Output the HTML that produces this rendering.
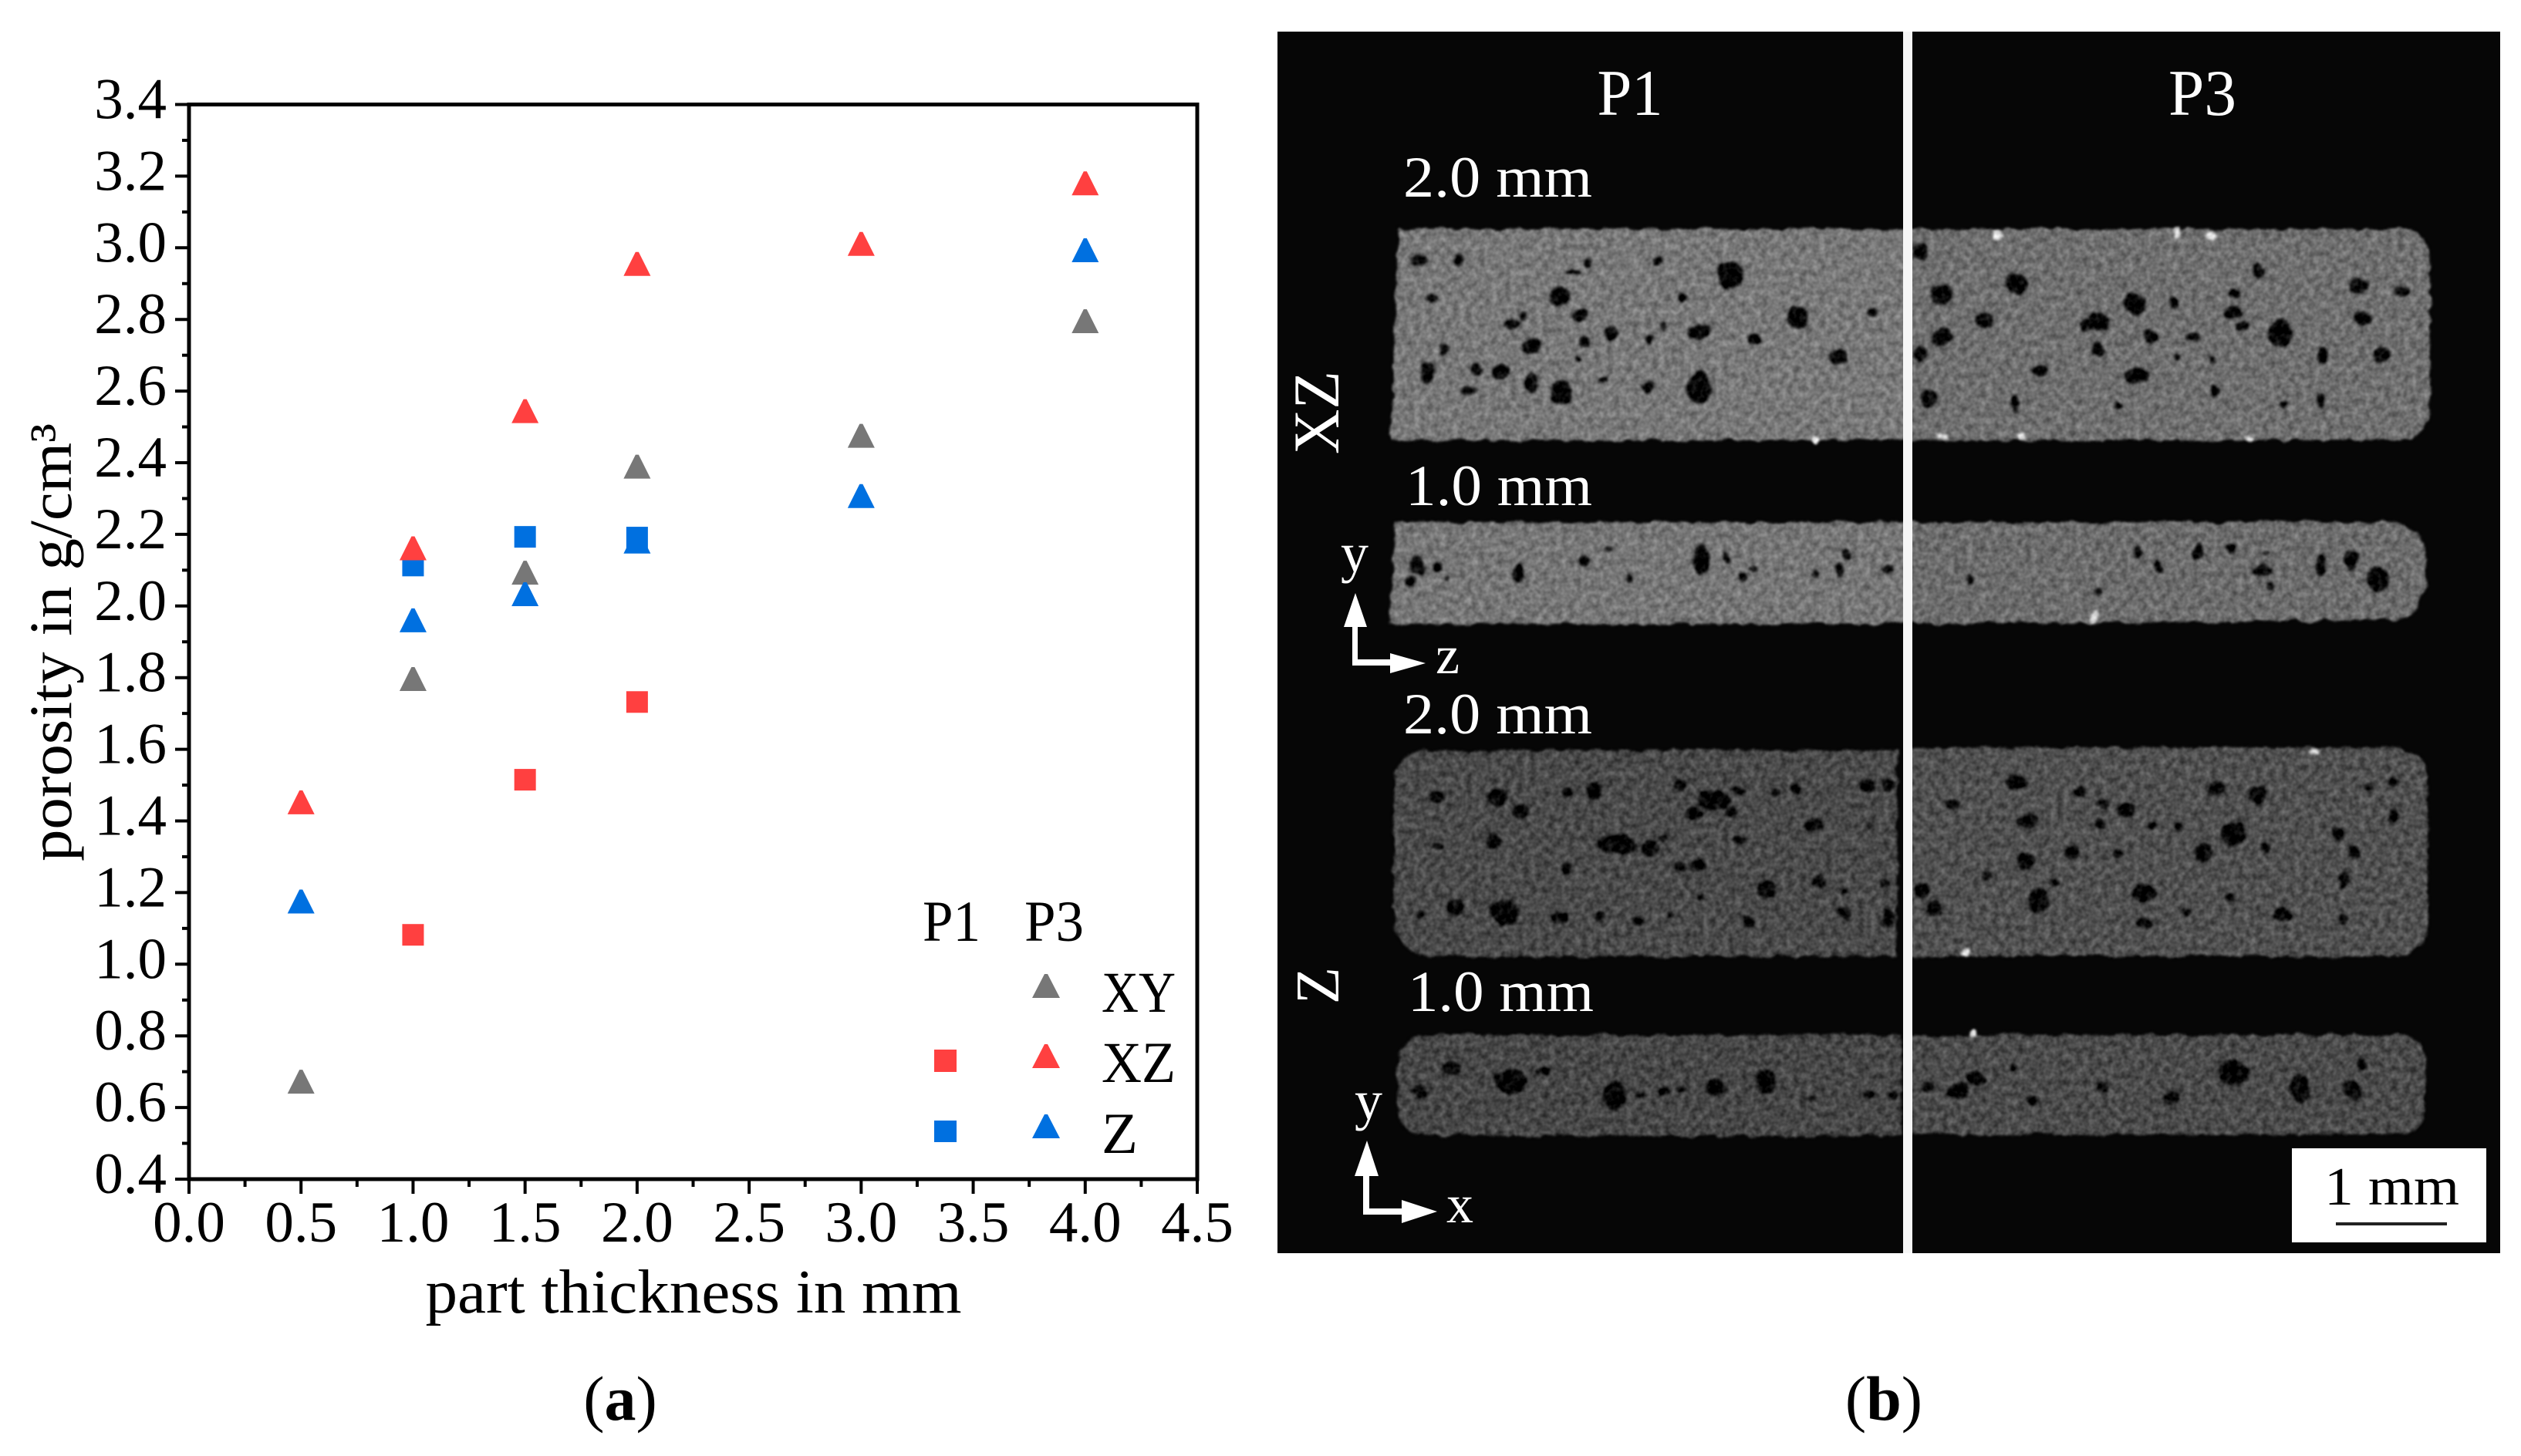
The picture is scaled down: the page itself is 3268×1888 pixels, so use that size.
<!DOCTYPE html>
<html lang="en">
<head>
<meta charset="utf-8">
<title>Porosity vs part thickness and CT cross-sections</title>
<style>
html,body{margin:0;padding:0;background:#fff;width:3268px;height:1888px;overflow:hidden;}
svg{display:block;}
text{font-family:"Liberation Serif",serif;}
</style>
</head>
<body>
<svg id="fig" xmlns="http://www.w3.org/2000/svg" width="3268" height="1888" viewBox="0 0 3268 1888">
<defs>
<clipPath id="imgclip"><rect x="1656" y="41" width="1585" height="1584"/></clipPath>
<filter id="rough" filterUnits="userSpaceOnUse" x="1656" y="41" width="1585" height="1584" color-interpolation-filters="sRGB">
<feTurbulence type="fractalNoise" baseFrequency="0.06" numOctaves="2" seed="4" result="wob"/>
<feDisplacementMap in="SourceGraphic" in2="wob" scale="10" xChannelSelector="R" yChannelSelector="G" result="disp"/>
<feGaussianBlur in="disp" stdDeviation="1.8" result="soft"/>
<feTurbulence type="fractalNoise" baseFrequency="0.12" numOctaves="2" seed="9" result="grain"/>
<feColorMatrix in="grain" type="matrix" values="1 0 0 0 0 1 0 0 0 0 1 0 0 0 0 0 0 0 0 1" result="grainGray"/>
<feComposite in="soft" in2="grainGray" operator="arithmetic" k1="0" k2="1" k3="0.35" k4="-0.175" result="tex"/>
<feComposite in="tex" in2="soft" operator="in"/>
</filter>
</defs>

<g id="panel-a">
<g id="chart"></g>
<text transform="translate(92,833) rotate(-90)" font-size="78" text-anchor="middle" textLength="568" lengthAdjust="spacingAndGlyphs" fill="#000">porosity in g/cm³</text>
<text x="899" y="1702" font-size="80" text-anchor="middle" textLength="695" lengthAdjust="spacingAndGlyphs" fill="#000">part thickness in mm</text>
<g fill="#000" font-size="75">
<text x="1196" y="1220" textLength="75" lengthAdjust="spacingAndGlyphs">P1</text>
<text x="1328" y="1220" textLength="77" lengthAdjust="spacingAndGlyphs">P3</text>
<polygon points="1354,1263 1358,1263 1374,1294 1338,1294" fill="#777777"/>
<text x="1428" y="1312" textLength="96" lengthAdjust="spacingAndGlyphs">XY</text>
<rect x="1211" y="1361" width="29" height="29" fill="#ff4040"/>
<polygon points="1354,1354 1358,1354 1374,1385 1338,1385" fill="#ff4040"/>
<text x="1428" y="1403" textLength="96" lengthAdjust="spacingAndGlyphs">XZ</text>
<rect x="1211" y="1453" width="29" height="28" fill="#0070e0"/>
<polygon points="1354,1445 1358,1445 1374,1476 1338,1476" fill="#0070e0"/>
<text x="1428" y="1495" textLength="47" lengthAdjust="spacingAndGlyphs">Z</text>
</g>
<text x="804" y="1841" font-size="82" text-anchor="middle" fill="#000">(<tspan font-weight="bold">a</tspan>)</text>
</g>

<g id="panel-b">
<rect x="1656" y="41" width="1585" height="1584" fill="#060606"/>
<g clip-path="url(#imgclip)">
<g filter="url(#rough)">
<path d="M1812,296 H2475 V572 H1802 Z" fill="#787878"/>
<path d="M2472,296 H3115 Q3148,296 3151,340 V530 Q3146,570 3110,572 H2472 Z" fill="#6f6f6f"/>
<path d="M1808,676 H2475 V810 H1800 Z" fill="#767676"/>
<path d="M2472,676 H3105 Q3146,680 3146,740 Q3146,800 3100,805 L2472,810 Z" fill="#6c6c6c"/>
<path d="M1850,972 H2460 V1241 H1850 Q1806,1235 1806,1190 V1020 Q1806,976 1850,972 Z" fill="#4a4a4a"/>
<path d="M2472,968 H3105 Q3148,973 3148,1015 V1195 Q3148,1235 3105,1241 H2472 Z" fill="#505050"/>
<path d="M1850,1341 H2466 V1474 H1850 Q1811,1470 1811,1440 V1375 Q1811,1345 1850,1341 Z" fill="#474747"/>
<path d="M2472,1341 H3110 Q3144,1345 3144,1375 V1440 Q3144,1470 3110,1472 H2472 Z" fill="#4b4b4b"/>
<g transform="translate(1640,30) scale(1.0384,0.5102)" fill="#040404">
<ellipse cx="192" cy="603" rx="10" ry="14"/><ellipse cx="242" cy="603" rx="6" ry="16"/><ellipse cx="385" cy="635" rx="10" ry="6"/><ellipse cx="403" cy="605" rx="5" ry="12"/><ellipse cx="490" cy="605" rx="5" ry="12"/><ellipse cx="580" cy="640" rx="16" ry="36"/><ellipse cx="209" cy="697" rx="7" ry="10"/><ellipse cx="368" cy="695" rx="12" ry="26"/><ellipse cx="392" cy="743" rx="11" ry="16"/><ellipse cx="308" cy="765" rx="10" ry="12"/><ellipse cx="323" cy="745" rx="5" ry="10"/><ellipse cx="333" cy="820" rx="11" ry="20"/><ellipse cx="398" cy="810" rx="7" ry="14"/><ellipse cx="433" cy="790" rx="8" ry="18"/><ellipse cx="480" cy="805" rx="5" ry="14"/><ellipse cx="542" cy="785" rx="13" ry="20"/><ellipse cx="497" cy="770" rx="3" ry="10"/><ellipse cx="522" cy="697" rx="5" ry="10"/><ellipse cx="610" cy="805" rx="8" ry="16"/><ellipse cx="665" cy="750" rx="14" ry="30"/><ellipse cx="716" cy="848" rx="11" ry="18"/><ellipse cx="758" cy="735" rx="6" ry="10"/><ellipse cx="224" cy="830" rx="7" ry="14"/><ellipse cx="202" cy="890" rx="9" ry="26"/><ellipse cx="265" cy="880" rx="7" ry="18"/><ellipse cx="294" cy="885" rx="10" ry="20"/><ellipse cx="255" cy="932" rx="9" ry="10"/><ellipse cx="332" cy="915" rx="10" ry="26"/><ellipse cx="369" cy="940" rx="14" ry="30"/><ellipse cx="422" cy="905" rx="6" ry="8"/><ellipse cx="478" cy="925" rx="6" ry="12"/><ellipse cx="542" cy="925" rx="14" ry="40"/><ellipse cx="392" cy="855" rx="3" ry="6"/>
<ellipse cx="818" cy="580" rx="9" ry="24"/><ellipse cx="938" cy="665" rx="14" ry="26"/><ellipse cx="845" cy="690" rx="13" ry="26"/><ellipse cx="1085" cy="715" rx="14" ry="30"/><ellipse cx="1135" cy="710" rx="6" ry="16"/><ellipse cx="1210" cy="688" rx="6" ry="14"/><ellipse cx="1240" cy="630" rx="6" ry="20"/><ellipse cx="1365" cy="670" rx="12" ry="20"/><ellipse cx="1420" cy="682" rx="9" ry="14"/><ellipse cx="898" cy="755" rx="11" ry="18"/><ellipse cx="1040" cy="760" rx="14" ry="24"/><ellipse cx="1022" cy="770" rx="6" ry="14"/><ellipse cx="1105" cy="795" rx="10" ry="20"/><ellipse cx="1160" cy="800" rx="11" ry="12"/><ellipse cx="1210" cy="735" rx="12" ry="14"/><ellipse cx="1220" cy="770" rx="9" ry="12"/><ellipse cx="1268" cy="790" rx="14" ry="36"/><ellipse cx="1370" cy="752" rx="10" ry="18"/><ellipse cx="845" cy="797" rx="13" ry="24"/><ellipse cx="818" cy="840" rx="9" ry="18"/><ellipse cx="1040" cy="828" rx="9" ry="18"/><ellipse cx="1320" cy="845" rx="7" ry="20"/><ellipse cx="1392" cy="845" rx="10" ry="22"/><ellipse cx="1183" cy="858" rx="5" ry="12"/><ellipse cx="968" cy="882" rx="11" ry="16"/><ellipse cx="1088" cy="897" rx="17" ry="20"/><ellipse cx="1185" cy="935" rx="6" ry="18"/><ellipse cx="828" cy="955" rx="9" ry="24"/><ellipse cx="936" cy="970" rx="6" ry="20"/><ellipse cx="1066" cy="972" rx="4" ry="10"/><ellipse cx="1270" cy="968" rx="5" ry="10"/><ellipse cx="1318" cy="960" rx="5" ry="18"/><ellipse cx="1138" cy="850" rx="4" ry="8"/>
<ellipse cx="190" cy="1380" rx="9" ry="24"/><ellipse cx="215" cy="1382" rx="6" ry="12"/><ellipse cx="182" cy="1418" rx="6" ry="12"/><ellipse cx="316" cy="1400" rx="6" ry="24"/><ellipse cx="398" cy="1365" rx="7" ry="16"/><ellipse cx="428" cy="1335" rx="5" ry="8"/><ellipse cx="545" cy="1365" rx="10" ry="40"/><ellipse cx="575" cy="1360" rx="5" ry="14"/><ellipse cx="610" cy="1385" rx="6" ry="8"/><ellipse cx="716" cy="1390" rx="6" ry="20"/><ellipse cx="725" cy="1352" rx="5" ry="14"/><ellipse cx="688" cy="1400" rx="5" ry="12"/><ellipse cx="778" cy="1388" rx="6" ry="10"/><ellipse cx="455" cy="1415" rx="4" ry="12"/><ellipse cx="596" cy="1408" rx="5" ry="10"/><ellipse cx="228" cy="1410" rx="3" ry="8"/>
<ellipse cx="880" cy="1410" rx="4" ry="14"/><ellipse cx="1040" cy="1446" rx="5" ry="12"/><ellipse cx="1090" cy="1342" rx="5" ry="14"/><ellipse cx="1115" cy="1385" rx="5" ry="14"/><ellipse cx="1165" cy="1342" rx="5" ry="22"/><ellipse cx="1205" cy="1335" rx="7" ry="12"/><ellipse cx="1245" cy="1390" rx="12" ry="14"/><ellipse cx="1253" cy="1430" rx="5" ry="10"/><ellipse cx="1318" cy="1380" rx="6" ry="24"/><ellipse cx="1355" cy="1365" rx="9" ry="24"/><ellipse cx="1390" cy="1415" rx="14" ry="30"/><ellipse cx="1250" cy="1345" rx="4" ry="6"/>
</g>
<g transform="translate(1640,830) scale(1.0384,0.6378)" fill="#040404">
<ellipse cx="215" cy="318" rx="8" ry="10"/><ellipse cx="290" cy="320" rx="12" ry="18"/><ellipse cx="318" cy="348" rx="10" ry="14"/><ellipse cx="378" cy="308" rx="6" ry="10"/><ellipse cx="410" cy="305" rx="10" ry="18"/><ellipse cx="518" cy="295" rx="8" ry="8"/><ellipse cx="560" cy="325" rx="20" ry="22"/><ellipse cx="535" cy="352" rx="11" ry="12"/><ellipse cx="582" cy="350" rx="8" ry="10"/><ellipse cx="590" cy="305" rx="6" ry="8"/><ellipse cx="752" cy="295" rx="10" ry="14"/><ellipse cx="778" cy="295" rx="8" ry="12"/><ellipse cx="635" cy="310" rx="6" ry="8"/><ellipse cx="662" cy="305" rx="7" ry="10"/><ellipse cx="684" cy="376" rx="11" ry="12"/><ellipse cx="754" cy="378" rx="5" ry="8"/><ellipse cx="285" cy="410" rx="10" ry="16"/><ellipse cx="440" cy="415" rx="24" ry="20"/><ellipse cx="480" cy="425" rx="11" ry="18"/><ellipse cx="498" cy="403" rx="6" ry="8"/><ellipse cx="592" cy="405" rx="8" ry="8"/><ellipse cx="376" cy="465" rx="6" ry="14"/><ellipse cx="518" cy="460" rx="8" ry="10"/><ellipse cx="540" cy="458" rx="8" ry="12"/><ellipse cx="626" cy="505" rx="11" ry="20"/><ellipse cx="692" cy="492" rx="9" ry="14"/><ellipse cx="775" cy="495" rx="6" ry="8"/><ellipse cx="722" cy="510" rx="5" ry="6"/><ellipse cx="238" cy="545" rx="11" ry="18"/><ellipse cx="298" cy="555" rx="18" ry="26"/><ellipse cx="368" cy="566" rx="10" ry="14"/><ellipse cx="418" cy="562" rx="6" ry="10"/><ellipse cx="465" cy="572" rx="7" ry="8"/><ellipse cx="505" cy="560" rx="5" ry="8"/><ellipse cx="604" cy="572" rx="8" ry="14"/><ellipse cx="722" cy="555" rx="8" ry="14"/><ellipse cx="778" cy="565" rx="8" ry="20"/><ellipse cx="545" cy="525" rx="4" ry="8"/><ellipse cx="193" cy="557" rx="6" ry="6"/><ellipse cx="215" cy="420" rx="5" ry="6"/>
<ellipse cx="938" cy="290" rx="13" ry="16"/><ellipse cx="858" cy="333" rx="9" ry="12"/><ellipse cx="1018" cy="308" rx="7" ry="12"/><ellipse cx="1045" cy="335" rx="7" ry="8"/><ellipse cx="1075" cy="347" rx="11" ry="14"/><ellipse cx="1188" cy="303" rx="10" ry="16"/><ellipse cx="1240" cy="315" rx="12" ry="20"/><ellipse cx="1408" cy="290" rx="7" ry="8"/><ellipse cx="1378" cy="300" rx="5" ry="8"/><ellipse cx="952" cy="368" rx="14" ry="16"/><ellipse cx="1043" cy="372" rx="6" ry="10"/><ellipse cx="1108" cy="378" rx="7" ry="8"/><ellipse cx="1140" cy="380" rx="6" ry="8"/><ellipse cx="1208" cy="395" rx="16" ry="24"/><ellipse cx="1340" cy="395" rx="8" ry="14"/><ellipse cx="1408" cy="358" rx="7" ry="14"/><ellipse cx="1170" cy="432" rx="12" ry="18"/><ellipse cx="1250" cy="420" rx="7" ry="12"/><ellipse cx="1360" cy="428" rx="7" ry="14"/><ellipse cx="950" cy="450" rx="11" ry="16"/><ellipse cx="1008" cy="433" rx="10" ry="14"/><ellipse cx="1065" cy="436" rx="6" ry="8"/><ellipse cx="902" cy="477" rx="6" ry="10"/><ellipse cx="1346" cy="490" rx="6" ry="14"/><ellipse cx="820" cy="508" rx="10" ry="16"/><ellipse cx="835" cy="548" rx="10" ry="16"/><ellipse cx="965" cy="530" rx="13" ry="24"/><ellipse cx="985" cy="492" rx="6" ry="8"/><ellipse cx="1097" cy="515" rx="14" ry="18"/><ellipse cx="1205" cy="525" rx="6" ry="8"/><ellipse cx="1150" cy="552" rx="6" ry="10"/><ellipse cx="1270" cy="558" rx="11" ry="16"/><ellipse cx="1347" cy="568" rx="6" ry="12"/><ellipse cx="1096" cy="575" rx="10" ry="12"/>
<ellipse cx="233" cy="870" rx="13" ry="16"/><ellipse cx="193" cy="920" rx="9" ry="12"/><ellipse cx="306" cy="897" rx="20" ry="26"/><ellipse cx="348" cy="878" rx="9" ry="8"/><ellipse cx="437" cy="925" rx="16" ry="28"/><ellipse cx="468" cy="925" rx="6" ry="6"/><ellipse cx="498" cy="917" rx="8" ry="10"/><ellipse cx="520" cy="912" rx="5" ry="6"/><ellipse cx="562" cy="910" rx="13" ry="18"/><ellipse cx="625" cy="897" rx="13" ry="26"/><ellipse cx="755" cy="925" rx="8" ry="10"/><ellipse cx="785" cy="925" rx="6" ry="8"/><ellipse cx="680" cy="930" rx="5" ry="6"/>
<ellipse cx="828" cy="908" rx="6" ry="10"/><ellipse cx="865" cy="915" rx="13" ry="16"/><ellipse cx="888" cy="890" rx="12" ry="16"/><ellipse cx="958" cy="935" rx="7" ry="12"/><ellipse cx="933" cy="870" rx="4" ry="8"/><ellipse cx="1045" cy="910" rx="8" ry="10"/><ellipse cx="1132" cy="930" rx="10" ry="14"/><ellipse cx="1208" cy="880" rx="19" ry="26"/><ellipse cx="1292" cy="910" rx="11" ry="30"/><ellipse cx="1358" cy="915" rx="11" ry="20"/><ellipse cx="1370" cy="862" rx="7" ry="12"/>
</g>
<g fill="#e4e4e4">
<ellipse cx="2590" cy="304" rx="7" ry="8"/><ellipse cx="2822" cy="300" rx="4" ry="7"/><ellipse cx="2865" cy="306" rx="8" ry="5"/><ellipse cx="2517" cy="565" rx="6" ry="4"/><ellipse cx="2621" cy="565" rx="6" ry="6"/><ellipse cx="2915" cy="570" rx="5" ry="4"/><ellipse cx="2715" cy="799" rx="5" ry="8"/><ellipse cx="2559" cy="1339" rx="6" ry="5"/><ellipse cx="2549" cy="1235" rx="7" ry="6"/><ellipse cx="3000" cy="975" rx="7" ry="4"/><ellipse cx="2353" cy="570" rx="5" ry="5"/>
</g>
</g>
</g>
<rect x="2467" y="41" width="12" height="1584" fill="#f6f6f6"/>
<g fill="#ffffff">
<text x="2113" y="149" font-size="85" text-anchor="middle" textLength="85" lengthAdjust="spacingAndGlyphs">P1</text>
<text x="2855" y="149" font-size="85" text-anchor="middle" textLength="88" lengthAdjust="spacingAndGlyphs">P3</text>
<text x="1819" y="255" font-size="75" textLength="245" lengthAdjust="spacingAndGlyphs">2.0 mm</text>
<text x="1822" y="655" font-size="75" textLength="242" lengthAdjust="spacingAndGlyphs">1.0 mm</text>
<text x="1819" y="951" font-size="75" textLength="245" lengthAdjust="spacingAndGlyphs">2.0 mm</text>
<text x="1825" y="1311" font-size="75" textLength="241" lengthAdjust="spacingAndGlyphs">1.0 mm</text>
<text transform="translate(1735,535) rotate(-90)" font-size="85" text-anchor="middle" textLength="108" lengthAdjust="spacingAndGlyphs">XZ</text>
<text transform="translate(1735,1278) rotate(-90)" font-size="80" text-anchor="middle" textLength="48" lengthAdjust="spacingAndGlyphs">Z</text>
<text x="1738" y="741" font-size="72">y</text>
<text x="1861" y="873" font-size="70">z</text>
<text x="1756" y="1451" font-size="72">y</text>
<text x="1875" y="1585" font-size="70">x</text>
</g>
<g fill="#ffffff" stroke="none">
<path d="M1753,813 H1742 L1757,769 L1772,813 H1760 V855 H1802 V847 L1848,860 L1802,873 V863 H1753 Z"/>
</g>
<g fill="#ffffff" stroke="none">
<path d="M1767,1525 H1756 L1772,1479 L1787,1525 H1775 V1567 H1817 V1556 L1863,1571 L1817,1586 V1575 H1767 Z"/>
</g>
<g>
<rect x="2971" y="1489" width="252" height="122" fill="#ffffff"/>
<text x="3013" y="1562" font-size="70" textLength="175" lengthAdjust="spacingAndGlyphs" fill="#000">1 mm</text>
<rect x="3028" y="1585" width="144" height="4" fill="#222"/>
</g>
<text x="2442" y="1841" font-size="82" text-anchor="middle" fill="#000">(<tspan font-weight="bold">b</tspan>)</text>
</g>
</svg>

<script>
// Chart data
const xTickLabels = ['0.0','0.5','1.0','1.5','2.0','2.5','3.0','3.5','4.0','4.5'];
const yTickLabels = ['0.4','0.6','0.8','1.0','1.2','1.4','1.6','1.8','2.0','2.2','2.4','2.6','2.8','3.0','3.2','3.4'];
const thicknessP3 = [0.5, 1.0, 1.5, 2.0, 3.0, 4.0];
const xyP3 = [0.672, 1.796, 2.093, 2.389, 2.475, 2.795];
const xzP3 = [1.452, 2.161, 2.544, 2.955, 3.011, 3.180];
const zP3 = [1.175, 1.960, 2.033, 2.180, 2.307, 2.993];
const thicknessP1 = [1.0, 1.5, 2.0];
const xzP1 = [1.082, 1.515, 1.732];
const zP1 = [2.113, 2.193, 2.191];

const NS = 'http://www.w3.org/2000/svg';
const chart = document.getElementById('chart');
const plotLeft = 245, plotRight = 1552, plotTop = 135.5, plotBottom = 1529;
const xMin = 0, xMax = 4.5, yMin = 0.4, yMax = 3.4;
const GRAY = '#777777', RED = '#ff4040', BLUE = '#0070e0';

function xScale(v) { return plotLeft + (v - xMin) / (xMax - xMin) * (plotRight - plotLeft); }
function yScale(v) { return plotBottom - (v - yMin) / (yMax - yMin) * (plotBottom - plotTop); }

function make(tag, attrs, parent) {
  const el = document.createElementNS(NS, tag);
  Object.keys(attrs).forEach(function (k) { el.setAttribute(k, attrs[k]); });
  (parent || chart).appendChild(el);
  return el;
}

function drawTick(x1, y1, x2, y2, width, name) {
  const el = make('line', { x1: x1, y1: y1, x2: x2, y2: y2, stroke: '#000', 'stroke-width': width });
  
  
}

function drawLabel(x, y, anchor, str, name) {
  const el = make('text', { x: x, y: y, 'text-anchor': anchor, 'font-size': 75, fill: '#000' });
  el.textContent = str;
  
  
}

function drawTriangle(xv, yv, color, name) {
  const cx = xScale(xv), cy = yScale(yv);
  const el = make('polygon', {
    points: (cx - 2) + ',' + (cy - 15.5) + ' ' + (cx + 2) + ',' + (cy - 15.5) + ' ' +
            (cx + 17.5) + ',' + (cy + 15.5) + ' ' + (cx - 17.5) + ',' + (cy + 15.5),
    fill: color
  });
  
  
}

function drawSquare(xv, yv, color, name) {
  const cx = xScale(xv), cy = yScale(yv);
  const el = make('rect', { x: cx - 14, y: cy - 14, width: 28, height: 28, fill: color });
  
  
}

// Frame
const frame = make('rect', {
  x: plotLeft, y: plotTop, width: plotRight - plotLeft, height: plotBottom - plotTop,
  fill: 'none', stroke: '#000', 'stroke-width': 5
});



// X axis
xTickLabels.forEach(function (lab, i) {
  const v = parseFloat(lab);
  const x = xScale(v);
  drawTick(x, plotBottom, x, plotBottom + 19, 4, 'x-tick-' + lab);
  drawLabel(x, 1610, 'middle', lab, 'x-tick-label-' + lab);
  if (i < xTickLabels.length - 1) {
    const next = parseFloat(xTickLabels[i + 1]);
    const mx = xScale((v + next) / 2);
    drawTick(mx, plotBottom, mx, plotBottom + 10, 4, 'x-minor-tick-' + i);
  }
});

// Y axis
yTickLabels.forEach(function (lab, i) {
  const v = parseFloat(lab);
  const y = yScale(v);
  drawTick(plotLeft, y, plotLeft - 18, y, 4, 'y-tick-' + lab);
  drawLabel(216, y + 18, 'end', lab, 'y-tick-label-' + lab);
  if (i < yTickLabels.length - 1) {
    const next = parseFloat(yTickLabels[i + 1]);
    const my = yScale((v + next) / 2);
    drawTick(plotLeft, my, plotLeft - 9, my, 4, 'y-minor-tick-' + i);
  }
});

// Series
xyP3.forEach(function (v, i) { drawTriangle(thicknessP3[i], v, GRAY, 'point-xy-p3-' + thicknessP3[i]); });
zP3.forEach(function (v, i) { drawTriangle(thicknessP3[i], v, BLUE, 'point-z-p3-' + thicknessP3[i]); });
xzP1.forEach(function (v, i) { drawSquare(thicknessP1[i], v, RED, 'point-xz-p1-' + thicknessP1[i]); });
zP1.forEach(function (v, i) { drawSquare(thicknessP1[i], v, BLUE, 'point-z-p1-' + thicknessP1[i]); });
xzP3.forEach(function (v, i) { drawTriangle(thicknessP3[i], v, RED, 'point-xz-p3-' + thicknessP3[i]); });
</script>
</body>
</html>
